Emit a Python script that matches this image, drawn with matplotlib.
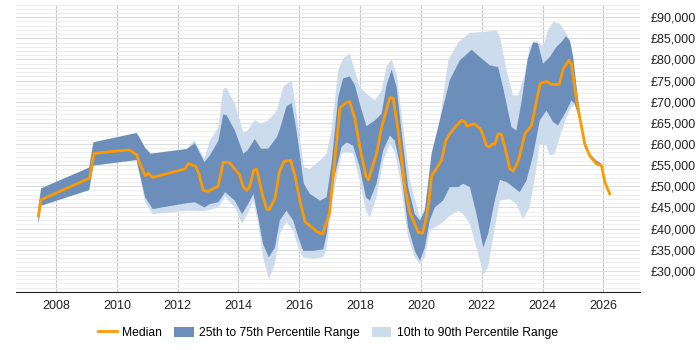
import matplotlib
matplotlib.use('Agg')
import matplotlib.pyplot as plt
import numpy as np
from matplotlib.ticker import MultipleLocator, FuncFormatter

# median salary
med_x = [2007.42, 2007.50, 2009.10, 2009.25, 2010.41, 2010.65, 2010.76, 2010.93, 2011.03, 2011.18,
         2012.24, 2012.35, 2012.60, 2012.70, 2012.84, 2013.00, 2013.33, 2013.50, 2013.70, 2014.03,
         2014.16, 2014.27, 2014.36, 2014.51, 2014.60, 2014.81, 2014.93, 2015.01, 2015.20, 2015.34,
         2015.50, 2015.72, 2015.86, 2016.02, 2016.19, 2016.41, 2016.57, 2016.77, 2016.84, 2016.99,
         2017.34, 2017.56, 2017.66, 2017.83, 2017.99, 2018.19, 2018.27, 2018.54, 2018.71, 2018.98,
         2019.09, 2019.25, 2019.47, 2019.64, 2019.75, 2019.91, 2020.05, 2020.16, 2020.27, 2020.35,
         2020.51, 2020.68, 2020.82, 2020.95, 2021.15, 2021.34, 2021.45, 2021.52, 2021.74, 2021.96,
         2022.05, 2022.16, 2022.25, 2022.36, 2022.43, 2022.54, 2022.65, 2022.76, 2022.93, 2023.04,
         2023.21, 2023.42, 2023.64, 2023.92, 2024.13, 2024.30, 2024.55, 2024.68, 2024.87, 2024.95,
         2025.12, 2025.39, 2025.55, 2025.77, 2025.94, 2026.05, 2026.21]
median = [43000, 46800, 51900, 57800, 58600, 57500, 55300, 52500, 53100, 52100,
          54100, 55400, 54700, 52900, 49000, 48800, 50000, 55700, 55600, 52800,
          49800, 49000, 49800, 53900, 54000, 47400, 44600, 44500, 47000, 53300,
          55900, 56100, 52500, 46600, 41600, 40300, 39300, 38700, 40300, 43500,
          68500, 69900, 70000, 66000, 59300, 52500, 51500, 57700, 64000, 71000,
          70800, 63200, 49800, 43800, 41900, 39100, 38900, 41900, 46600, 52500,
          54100, 56200, 60800, 62400, 64200, 65600, 65200, 64200, 64800, 63600,
          62000, 59600, 59300, 60000, 59900, 62400, 62300, 59300, 54100, 53600,
          56100, 62400, 64400, 74300, 74800, 74100, 74100, 77800, 79800, 79000,
          70300, 60000, 57300, 55300, 54900, 51000, 48200]

# 75th percentile
p75_x = [2007.42, 2007.51, 2009.09, 2009.23, 2010.65, 2010.74, 2010.93, 2011.11, 2012.30, 2012.57,
         2012.88, 2013.06, 2013.34, 2013.50, 2013.61, 2013.88, 2014.16, 2014.30, 2014.54, 2014.74,
         2014.98, 2015.26, 2015.36, 2015.58, 2015.75, 2015.91, 2016.15, 2016.35, 2016.68, 2016.90,
         2017.06, 2017.28, 2017.44, 2017.66, 2017.83, 2017.99, 2018.21, 2018.49, 2018.71, 2018.87,
         2019.04, 2019.20, 2019.36, 2019.58, 2019.80, 2019.97, 2020.13, 2020.35, 2020.73, 2020.95,
         2021.28, 2021.67, 2021.94, 2022.27, 2022.54, 2022.70, 2022.98, 2023.14, 2023.31, 2023.51,
         2023.69, 2023.85, 2024.02, 2024.24, 2024.46, 2024.62, 2024.77, 2024.90, 2025.01, 2025.12,
         2025.23, 2025.39, 2025.55, 2025.77, 2025.94]
p75 = [45000, 49500, 54400, 60400, 62600, 61600, 59100, 57700, 58800, 60200,
       55700, 57300, 60800, 67000, 66800, 63200, 57700, 58500, 61200, 58900,
       58900, 61600, 63500, 68900, 69700, 63200, 50600, 48200, 46600, 47400,
       55300, 71100, 75500, 76000, 73900, 69500, 64200, 65600, 67200, 73900,
       77600, 73500, 63200, 49800, 43400, 41900, 44200, 57700, 68700, 75100,
       79800, 82300, 80600, 78600, 78200, 73500, 64000, 63200, 70000, 80000,
       84100, 83800, 79000, 80600, 83000, 84100, 85500, 84500, 80600, 73500,
       67200, 60800, 57700, 56100, 55300]

# 25th percentile
p25_x = [2007.42, 2007.51, 2009.09, 2009.23, 2010.65, 2010.93, 2011.18, 2012.30, 2012.57, 2012.88,
         2013.06, 2013.34, 2013.56, 2013.88, 2014.12, 2014.32, 2014.49, 2014.65, 2014.81, 2015.00,
         2015.20, 2015.36, 2015.58, 2015.80, 2015.97, 2016.13, 2016.46, 2016.79, 2016.90, 2017.12,
         2017.39, 2017.56, 2017.77, 2017.99, 2018.19, 2018.32, 2018.54, 2018.76, 2018.98, 2019.14,
         2019.31, 2019.36, 2019.58, 2019.80, 2019.97, 2020.13, 2020.29, 2020.46, 2020.73, 2020.95,
         2021.23, 2021.39, 2021.61, 2021.83, 2022.05, 2022.21, 2022.43, 2022.60, 2022.82, 2023.09,
         2023.25, 2023.47, 2023.69, 2023.91, 2024.13, 2024.35, 2024.51, 2024.79, 2024.95, 2025.06,
         2025.23, 2025.39, 2025.55, 2025.77, 2025.94]
p25 = [41100, 45400, 49100, 54900, 56200, 47400, 44600, 46000, 46200, 45000,
       45800, 46200, 48600, 46600, 43400, 45800, 48200, 42600, 36300, 33200,
       35500, 41900, 44200, 41900, 37900, 34700, 34700, 35100, 38700, 51300,
       59300, 60400, 59600, 54500, 47400, 46600, 50600, 58500, 62000, 60800,
       55300, 52900, 40300, 34700, 32400, 35500, 41900, 45000, 46600, 49800,
       49800, 50600, 49800, 43400, 35500, 38700, 46600, 51500, 51000, 49500,
       48600, 51300, 57300, 65600, 67900, 65200, 64400, 67900, 70300, 69500,
       65600, 59300, 56900, 55300, 54500]

# 90th percentile
p90_x = [2007.42, 2007.51, 2009.09, 2009.23, 2010.65, 2010.74, 2010.93, 2011.11, 2012.30, 2012.55,
         2012.88, 2013.06, 2013.34, 2013.50, 2013.61, 2013.88, 2014.16, 2014.30, 2014.54, 2014.74,
         2014.98, 2015.26, 2015.47, 2015.75, 2015.91, 2016.15, 2016.35, 2016.68, 2016.90, 2017.06,
         2017.28, 2017.44, 2017.66, 2017.83, 2017.99, 2018.21, 2018.49, 2018.71, 2018.87, 2019.04,
         2019.20, 2019.36, 2019.64, 2019.97, 2020.13, 2020.35, 2020.62, 2020.90, 2021.23, 2021.61,
         2022.05, 2022.49, 2022.60, 2022.82, 2023.03, 2023.20, 2023.42, 2023.58, 2023.80, 2024.02,
         2024.18, 2024.35, 2024.57, 2024.79, 2024.95, 2025.06, 2025.23, 2025.39, 2025.55, 2025.77,
         2025.94]
p90 = [45000, 49500, 54400, 60400, 62600, 61600, 59100, 57700, 58900, 60900,
       56500, 60800, 64000, 73100, 73300, 69500, 62800, 63200, 65700, 64800,
       65600, 67900, 73500, 75100, 67200, 54500, 54100, 56100, 57700, 63200,
       77400, 80200, 81400, 77400, 73500, 71900, 70300, 72700, 78400, 80000,
       76600, 67200, 51300, 42600, 45000, 56100, 65600, 79800, 84100, 86300,
       86500, 86900, 85300, 77400, 71500, 71500, 76600, 83000, 84500, 83000,
       86900, 88900, 88500, 86100, 83000, 76600, 67200, 60800, 57700, 56100,
       55300]

# 10th percentile
p10_x = [2007.42, 2007.51, 2009.09, 2009.23, 2010.65, 2010.93, 2011.18, 2012.30, 2012.88, 2013.34,
         2013.56, 2013.88, 2014.12, 2014.32, 2014.49, 2014.65, 2014.81, 2015.00, 2015.20, 2015.36,
         2015.58, 2015.80, 2015.97, 2016.13, 2016.46, 2016.79, 2016.90, 2017.12, 2017.39, 2017.56,
         2017.77, 2017.99, 2018.19, 2018.32, 2018.54, 2018.76, 2018.98, 2019.14, 2019.31, 2019.53,
         2019.58, 2019.80, 2019.97, 2020.13, 2020.29, 2020.46, 2020.73, 2020.95, 2021.23, 2021.39,
         2021.61, 2021.83, 2022.05, 2022.21, 2022.43, 2022.60, 2022.92, 2023.14, 2023.36, 2023.58,
         2023.75, 2023.91, 2024.13, 2024.24, 2024.40, 2024.57, 2024.79, 2024.95, 2025.06, 2025.23,
         2025.39, 2025.55, 2025.77, 2025.94]
p10 = [40700, 45400, 49100, 54900, 56200, 46200, 43400, 44200, 44100, 45000,
       47500, 45000, 41100, 43800, 46600, 41100, 33200, 28000, 31600, 38700,
       41600, 39500, 35500, 33200, 32800, 33200, 35500, 48200, 57700, 58100,
       57700, 51300, 44200, 42600, 47400, 56100, 60000, 58100, 52100, 40300,
       37900, 33200, 31600, 33200, 39500, 40300, 41500, 43000, 44200, 43400,
       41100, 35500, 29200, 30800, 40300, 46600, 47000, 45800, 42200, 45000,
       52100, 60000, 59600, 57300, 57700, 61600, 66400, 68700, 69300, 65600,
       59300, 56900, 55300, 54500]

year_ticks = list(range(2008, 2027, 2))

plt.rcParams['font.family'] = ['Liberation Sans', 'DejaVu Sans']
fig, ax = plt.subplots(figsize=(7, 3.5), dpi=100)
fig.subplots_adjust(left=0.0223, right=0.914, bottom=0.166, top=0.987)

light = ax.fill(np.concatenate([p90_x, p10_x[::-1]]), np.concatenate([p90, p10[::-1]]),
                color='#cddcec', lw=0, zorder=2)[0]
dark = ax.fill(np.concatenate([p75_x, p25_x[::-1]]), np.concatenate([p75, p25[::-1]]),
               color='#6b8fba', lw=0, zorder=3)[0]
line, = ax.plot(med_x, median, color='#ff9900', lw=2, zorder=4)

ax.set_xlim(2006.67, 2027.2)
ax.set_ylim(25000, 93000)
ax.set_xticks(year_ticks)
ax.set_xticklabels([str(y) for y in year_ticks], fontsize=9)
ax.yaxis.tick_right()
ax.set_yticks(range(30000, 90001, 5000))
ax.yaxis.set_major_formatter(FuncFormatter(lambda v, p: '£{:,.0f}'.format(v)))
ax.yaxis.set_minor_locator(MultipleLocator(1000))
for lab in ax.get_yticklabels():
    lab.set_fontsize(9)
ax.tick_params(axis='both', which='both', length=0, colors='#222222')
ax.tick_params(axis='y', pad=8)
ax.tick_params(axis='x', pad=6)

ax.grid(axis='y', which='minor', color='#eeeeee', lw=0.8, zorder=0)
ax.grid(axis='y', which='major', color='#dddddd', lw=0.8, zorder=0)
ax.grid(axis='x', which='major', color='#c8c8c8', lw=0.8, zorder=1)
ax.set_axisbelow(True)

for s in ['top', 'right', 'left']:
    ax.spines[s].set_visible(False)
ax.spines['bottom'].set_color('#222222')

ax.legend([line, dark, light],
          ['Median', '25th to 75th Percentile Range', '10th to 90th Percentile Range'],
          loc='center', bbox_to_anchor=(0.5, -0.143), ncol=3, frameon=False,
          fontsize=8.7, handlelength=1.6, handleheight=0.9, columnspacing=1.0,
          handletextpad=0.45)

plt.savefig('out.png')
